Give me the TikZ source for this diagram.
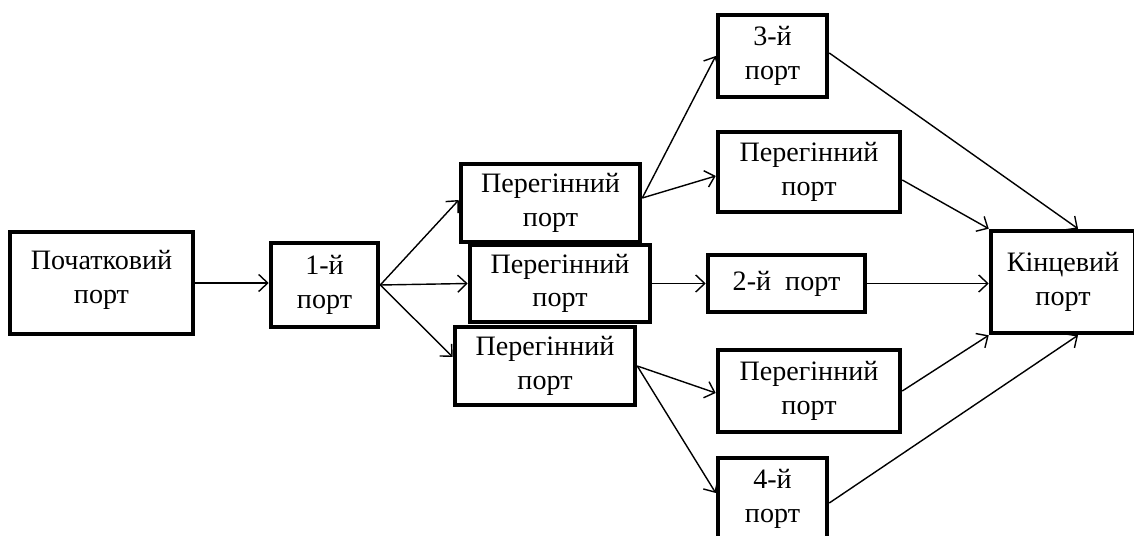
\documentclass[tikz,border=0pt]{standalone}
\usepackage{fontspec}
\setmainfont{Liberation Serif}
\usetikzlibrary{arrows.meta,calc}
\begin{document}
\begin{tikzpicture}[x=0.02cm,y=-0.02cm,
  box/.style={draw, line width=2.6pt, align=center, inner sep=0pt, fill=white,
    font=\fontsize{16}{19}\selectfont},
  arr/.style={line width=0.8pt, -{Straight Barb[length=1.8mm,width=3.4mm]}}]
\useasboundingbox (0,0) rectangle (1134,536);
\begin{scope}
\clip (0,0) rectangle (1134,536);
\node[box, minimum width=3.66cm, minimum height=2.04cm, text depth=0.25cm] (start) at (101.5,283) {Початковий\\порт};
\node[box, minimum width=2.14cm, minimum height=1.68cm] (p1) at (324.5,285) {1-й\\порт};
\node[box, minimum width=3.58cm, minimum height=1.56cm] (ma) at (550.5,203) {Перегінний\\порт};
\node[box, minimum width=3.60cm, minimum height=1.54cm] (mb) at (560,283.5) {Перегінний\\порт};
\node[box, minimum width=3.60cm, minimum height=1.56cm] (mc) at (545,366) {Перегінний\\порт};
\node[box, minimum width=2.18cm, minimum height=1.64cm] (p3) at (772.5,56) {3-й\\порт};
\node[box, minimum width=3.64cm, minimum height=1.60cm] (ra) at (809,172) {Перегінний\\порт};
\node[box, minimum width=3.14cm, minimum height=1.14cm] (p2) at (786.5,283.5) {2-й\ \ порт};
\node[box, minimum width=3.64cm, minimum height=1.64cm] (rc) at (809,391) {Перегінний\\порт};
\node[box, minimum width=2.18cm, minimum height=1.64cm] (p4) at (772.5,499) {4-й\\порт};
\node[box, minimum width=2.88cm, minimum height=2.04cm] (end) at (1063,282) {Кінцевий\\порт};

\draw[arr] (start.east) -- (p1.west |- start.east);
\draw[arr] (p1.east) -- ([yshift=0.06cm]ma.west);
\draw[arr] (p1.east) -- (mb.west);
\draw[arr] (p1.east) -- ([yshift=0.18cm]mc.west);
\draw[arr] ([yshift=0.1cm]ma.east) -- (p3.west);
\draw[arr] ([yshift=0.1cm]ma.east) -- ([yshift=-0.08cm]ra.west);
\draw[arr] (mb.east) -- (p2.west);
\draw[arr] (mc.east) -- ([yshift=-0.04cm]rc.west);
\draw[arr] (mc.east) -- ([yshift=0.12cm]p4.west);
\draw[arr] ([yshift=0.06cm]p3.east) -- ([xshift=0.3cm]end.north);
\draw[arr] ([yshift=-0.16cm]ra.east) -- (end.north west);
\draw[arr] (p2.east) -- (p2.east -| end.west);
\draw[arr] (rc.east) -- (end.south west);
\draw[arr] ([yshift=-0.08cm]p4.east) -- ([xshift=0.3cm]end.south);
\end{scope}
\end{tikzpicture}
\end{document}
